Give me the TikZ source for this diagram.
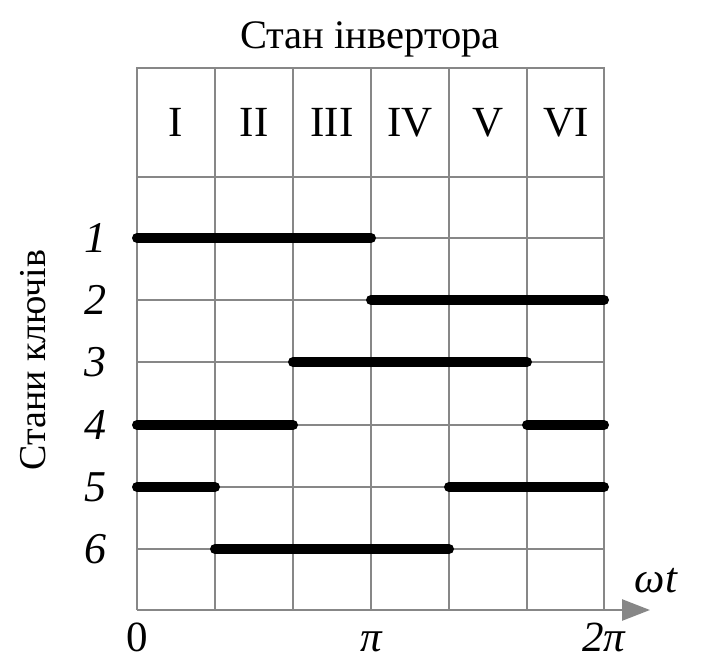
\documentclass[tikz,border=0pt]{standalone}
\usepackage{fontspec}
\setmainfont{Liberation Serif}
\usetikzlibrary{arrows.meta}
\definecolor{gridgray}{HTML}{878787}
\tikzset{
  gridline/.style = {draw=gridgray, line width=2.6pt},
  onbar/.style    = {line width=10pt, line cap=round},
  keylabel/.style = {font=\fontsize{44}{50}\selectfont\itshape},
  phase/.style    = {font=\fontsize{43}{50}\selectfont, anchor=base},
  axlabel/.style  = {font=\fontsize{43}{50}\selectfont, anchor=base, inner sep=0pt},
}

\begin{document}
\begin{tikzpicture}[x=1pt,y=-1pt]
\useasboundingbox (0,0) rectangle (701,659);
% grid of the table
\foreach \r in {177,238,300,362,425,487,549}
  \draw[gridline] (137,\r) -- (604,\r);
\foreach \c in {215,293,371,449,527}
  \draw[gridline] (\c,68) -- (\c,610);
\draw[gridline] (137,610) -- (137,68) -- (604,68) -- (604,610);
% time axis
\draw[gridline,-{Triangle[length=28pt,width=21pt]}] (137,610) -- (650,610);
% inverter states
\node[font=\fontsize{40.5}{48}\selectfont, anchor=base] (title) at (370,48) {Стан інвертора};
\foreach \n [count=\i from 0] in {I,II,III,IV,V,VI}
  \node[phase] (ph\i) at (176+78*\i,136) {\n};
% key states
\node[font=\fontsize{38}{46}\selectfont,rotate=90] (keys) at (33,360) {Стани ключів};
\foreach \k/\y in {1/238,2/300,3/362,4/425,5/487,6/549}
  \node[keylabel] (k\k) at (95,\y) {\k};
% conduction intervals
\foreach \y/\a/\b in {238/137/371, 300/371/604, 362/293/527, 425/137/293,
                      425/527/604, 487/137/215, 487/449/604, 549/215/449}
  \draw[onbar] (\a,\y) -- (\b,\y);
% axis labels
\node[axlabel] (zero) at (137,651) {0};
\node[axlabel,font=\fontsize{43}{50}\selectfont\itshape] (pi) at (371,651) {π};
\node[axlabel,font=\fontsize{43}{50}\selectfont\itshape] (twopi) at (604,651) {2π};
\node[axlabel,font=\fontsize{43}{50}\selectfont\itshape] (wt) at (656,592) {ωt};
\end{tikzpicture}
\end{document}
